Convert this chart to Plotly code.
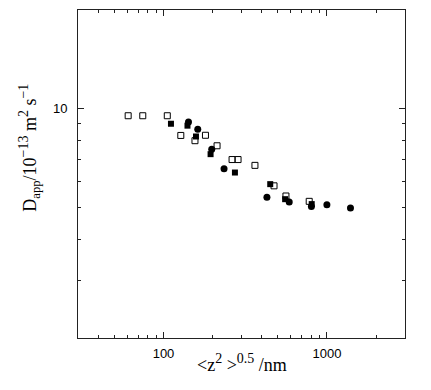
import math
import plotly.graph_objects as go

# Open squares
open_sq_x = [60.8, 74.7, 105.5, 127.6, 155.8, 180.6, 212.6, 262.7, 285.8, 362.5, 474.3, 561.0, 778.5]
open_sq_y = [9.52, 9.52, 9.52, 8.29, 7.99, 8.30, 7.71, 7.00, 7.00, 6.72, 5.82, 5.42, 5.22]

# Filled squares
fill_sq_x = [111.1, 140.2, 158.0, 194.1, 273.5, 449.6, 554.6, 806.4]
fill_sq_y = [9.00, 8.88, 8.23, 7.27, 6.39, 5.89, 5.30, 5.12]

# Filled circles
circ_x = [142.2, 162.0, 197.3, 234.6, 429.2, 587.5, 802.9, 998.6, 1392.0]
circ_y = [9.11, 8.66, 7.52, 6.56, 5.37, 5.20, 5.03, 5.10, 4.98]

x_ticks = [100, 1000]
x_tick_labels = ["100", "1000"]
x_minor = [40, 50, 60, 70, 80, 90, 200, 300, 400, 500, 600, 700, 800, 900, 2000]
y_ticks = [10]
y_tick_labels = ["10"]
y_minor = [3, 4, 5, 6, 7, 8, 9]

fig = go.Figure()
fig.add_trace(go.Scatter(x=open_sq_x, y=open_sq_y, mode="markers",
                         marker=dict(symbol="square-open", size=6, color="black", line=dict(width=1))))
fig.add_trace(go.Scatter(x=fill_sq_x, y=fill_sq_y, mode="markers",
                         marker=dict(symbol="square", size=6, color="black")))
fig.add_trace(go.Scatter(x=circ_x, y=circ_y, mode="markers",
                         marker=dict(symbol="circle", size=7, color="black")))

axis_common = dict(type="log", showgrid=False, zeroline=False, showline=True, linecolor="#222",
                   linewidth=1, mirror="ticks", ticks="inside", ticklen=6, tickcolor="#222",
                   tickfont=dict(family="Liberation Sans", size=13, color="black"))

fig.update_xaxes(range=[math.log10(30), math.log10(3000)], tickmode="array",
                 tickvals=x_ticks, ticktext=x_tick_labels, ticklabelstandoff=3,
                 minor=dict(ticks="inside", ticklen=3, tickcolor="#222", tickmode="array", tickvals=x_minor),
                 **axis_common)
fig.update_yaxes(range=[math.log10(2), math.log10(20)], tickmode="array",
                 tickvals=y_ticks, ticktext=y_tick_labels, ticklabelstandoff=7,
                 minor=dict(ticks="inside", ticklen=3, tickcolor="#222", tickmode="array", tickvals=y_minor),
                 **axis_common)

sup = '<sup><span style="font-size:14px">{}</span></sup>'
fig.add_annotation(xref="paper", yref="paper", x=0.5, y=-0.076, xanchor="center", yanchor="middle",
                   text="&lt;z" + sup.format("2") + " &gt;" + sup.format("0.5") + " /nm", showarrow=False,
                   font=dict(family="Liberation Serif", size=18, color="black"))
fig.add_annotation(xref="paper", yref="paper", x=-0.15, y=0.58, xanchor="center", yanchor="middle",
                   textangle=-90,
                   text="D<sub>app</sub>/10" + sup.format("\u221213") + " m" + sup.format("2") + " s" + sup.format("\u22121"),
                   showarrow=False,
                   font=dict(family="Liberation Serif", size=18, color="black"))

# page body has an 8px margin: size the figure so the plot area lands at x 78-405, y 10-338
fig.update_layout(width=415, height=374, margin=dict(l=70, r=18, t=2, b=44),
                  plot_bgcolor="white", paper_bgcolor="white", showlegend=False)
fig.write_html("out.html")
